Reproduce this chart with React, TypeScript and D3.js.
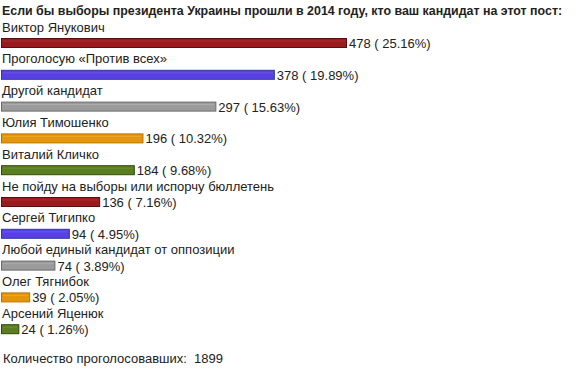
import React from "react";
import * as d3 from "d3";

const title = "Если бы выборы президента Украины прошли в 2014 году, кто ваш кандидат на этот пост:";
const candidates = [
  "Виктор Янукович",
  "Проголосую «Против всех»",
  "Другой кандидат",
  "Юлия Тимошенко",
  "Виталий Кличко",
  "Не пойду на выборы или испорчу бюллетень",
  "Сергей Тигипко",
  "Любой единый кандидат от оппозиции",
  "Олег Тягнибок",
  "Арсений Яценюк",
];
const votes = [478, 378, 297, 196, 184, 136, 94, 74, 39, 24];
const percents = ["25.16", "19.89", "15.63", "10.32", "9.68", "7.16", "4.95", "3.89", "2.05", "1.26"];
const totalLabel = "Количество проголосовавших:";
const totalVotes = 1899;

const fills = ["#9a1b1e", "#5a40e4", "#9b9b9b", "#e3960c", "#5b7e1f"];
const strokes = ["#5e0d0f", "#2a3aa6", "#6c6c6c", "#b97200", "#2f4a0c"];
const highlights = ["#b8393b", "#7a62f0", "#b5b5b5", "#f0b040", "#77983a"];

export default function App() {
  const W = 580, H = 377;
  const x = d3.scaleLinear().domain([0, d3.max(votes)!]).range([0, 345]);
  const y = d3.scaleBand<number>().domain(d3.range(votes.length)).range([22, 340]).paddingInner(0).paddingOuter(0);
  const font = "Arial, 'Liberation Sans', sans-serif";
  return (
    <svg width={W} height={H} style={{ position: "absolute", left: 0, top: 0, background: "#fff" }} fontFamily={font}>
      <rect width={W} height={H} fill="#fff" />
      <text x={2} y={15} fontSize={12.4} fontWeight="bold" fill="#222">{title}</text>
      {votes.map((v, i) => {
        const top = y(i)!;
        const barY = top + 16;
        const w = x(v);
        return (
          <g key={i}>
            <text x={2} y={top + 9.5} fontSize={13} fill="#222">{candidates[i]}</text>
            <rect x={1.5} y={barY + 0.5} width={w} height={9} fill={fills[i % 5]} stroke={strokes[i % 5]} strokeWidth={1} />
            <line x1={3} x2={w} y1={barY + 3} y2={barY + 3} stroke={highlights[i % 5]} strokeWidth={1} opacity={0.6} />
            <text x={w + 4} y={barY + 10} fontSize={13} fill="#222">{`${v} ( ${percents[i]}%)`}</text>
          </g>
        );
      })}
      <text x={3} y={363} fontSize={13} fill="#222" xmlSpace="preserve">{`${totalLabel}  ${totalVotes}`}</text>
    </svg>
  );
}
